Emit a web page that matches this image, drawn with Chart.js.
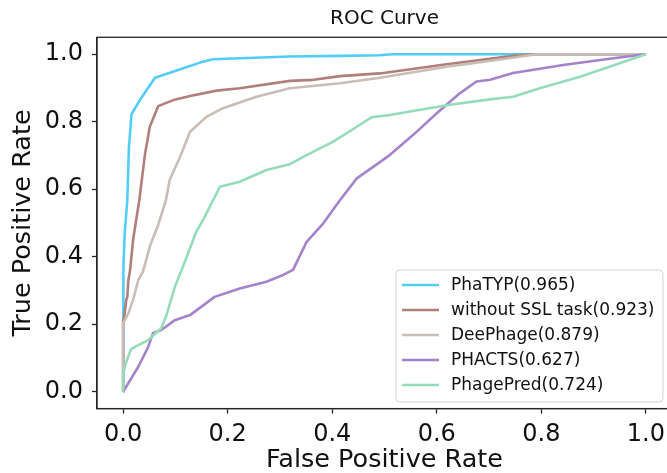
<!DOCTYPE html>
<html><head><meta charset="utf-8">
<script src="https://cdn.jsdelivr.net/npm/chart.js@4.4.1/dist/chart.umd.min.js"></script>
<style>
html,body{margin:0;padding:0;background:#fff;overflow:hidden;width:667px;height:473px}
#wrap{position:absolute;left:0;top:0;width:680px;height:473px}
canvas{display:block}
</style></head><body>
<div id="wrap"><canvas id="c" width="680" height="473" style="width:680px;height:473px"></canvas></div>
<script>
const chartTitle = 'ROC Curve';
const xAxisTitle = 'False Positive Rate';
const yAxisTitle = 'True Positive Rate';
const tickValues = [0, 0.2, 0.4, 0.6, 0.8, 1.0];
const seriesNames = ['PhaTYP(0.965)', 'without SSL task(0.923)', 'DeePhage(0.879)', 'PHACTS(0.627)', 'PhagePred(0.724)'];

const phatypFpr = [0, 0, 0.001, 0.003, 0.005, 0.008, 0.011, 0.016, 0.032, 0.061, 0.105, 0.147, 0.172, 0.223, 0.319, 0.415, 0.490, 0.515, 0.800, 1.0];
const phatypTpr = [0, 0.22, 0.37, 0.469, 0.508, 0.568, 0.721, 0.822, 0.864, 0.930, 0.953, 0.975, 0.985, 0.988, 0.993, 0.995, 0.997, 1.0, 1.0, 1.0];

const noSslFpr = [0, 0, 0.002, 0.006, 0.008, 0.010, 0.013, 0.019, 0.026, 0.031, 0.042, 0.051, 0.067, 0.096, 0.128, 0.179, 0.223, 0.319, 0.364, 0.415, 0.491, 0.619, 0.746, 0.791, 1.0];
const noSslTpr = [0, 0.21, 0.222, 0.272, 0.281, 0.331, 0.356, 0.449, 0.519, 0.568, 0.706, 0.785, 0.846, 0.864, 0.876, 0.892, 0.899, 0.921, 0.924, 0.935, 0.943, 0.970, 0.995, 1.0, 1.0];

const deephageFpr = [0, 0, 0.010, 0.019, 0.029, 0.038, 0.051, 0.067, 0.082, 0.089, 0.109, 0.128, 0.160, 0.191, 0.255, 0.319, 0.415, 0.491, 0.619, 0.715, 0.791, 1.0];
const deephageTpr = [0, 0.203, 0.232, 0.272, 0.331, 0.356, 0.430, 0.494, 0.568, 0.627, 0.696, 0.770, 0.815, 0.840, 0.874, 0.899, 0.914, 0.930, 0.963, 0.983, 1.0, 1.0];

const phactsFpr = [0, 0.029, 0.048, 0.057, 0.073, 0.099, 0.128, 0.175, 0.223, 0.274, 0.306, 0.325, 0.351, 0.383, 0.415, 0.447, 0.479, 0.510, 0.555, 0.600, 0.644, 0.676, 0.702, 0.746, 0.842, 0.938, 1.0];
const phactsTpr = [0, 0.074, 0.133, 0.173, 0.183, 0.212, 0.227, 0.281, 0.306, 0.326, 0.346, 0.361, 0.444, 0.499, 0.568, 0.632, 0.667, 0.701, 0.761, 0.825, 0.884, 0.919, 0.924, 0.944, 0.968, 0.988, 1.0];

const phagepredFpr = [0, 0, 0.004, 0.015, 0.029, 0.048, 0.073, 0.083, 0.099, 0.112, 0.140, 0.153, 0.185, 0.223, 0.274, 0.319, 0.351, 0.402, 0.447, 0.475, 0.510, 0.574, 0.625, 0.702, 0.746, 0.797, 0.874, 0.950, 1.0];
const phagepredTpr = [0, 0.05, 0.079, 0.126, 0.138, 0.153, 0.188, 0.227, 0.311, 0.361, 0.474, 0.509, 0.607, 0.622, 0.657, 0.674, 0.701, 0.741, 0.785, 0.813, 0.820, 0.837, 0.850, 0.866, 0.874, 0.899, 0.933, 0.973, 1.0];

const seriesFpr = [phatypFpr, noSslFpr, deephageFpr, phactsFpr, phagepredFpr];
const seriesTpr = [phatypTpr, noSslTpr, deephageTpr, phactsTpr, phagepredTpr];
const seriesColors = ['#52cdf7', '#b07f7c', '#c9bdb5', '#a583cc', '#95dcb8'];

const FONT = "'DejaVu Sans', sans-serif";

const datasets = seriesNames.map((name, i) => ({
  label: name,
  data: seriesFpr[i].map((x, j) => ({x: x, y: seriesTpr[i][j]})),
  borderColor: seriesColors[i],
  backgroundColor: seriesColors[i],
  borderWidth: 2.6,
  pointRadius: 0,
  pointHoverRadius: 0,
  tension: 0,
  fill: false,
  borderJoinStyle: 'round',
  order: seriesNames.length - i
}));

const framePlugin = {
  id: 'frameAndLegend',
  afterDatasetsDraw(chart) {
    const {ctx, chartArea: a} = chart;
    ctx.save();
    ctx.strokeStyle = '#262626';
    ctx.lineWidth = 1.3;
    ctx.strokeRect(a.left, a.top, a.right - a.left, a.bottom - a.top);
    ctx.restore();
  },
  afterDraw(chart) {
    const {ctx, chartArea: a} = chart;
    const ds = chart.data.datasets;
    const bw = 267, rowH = 25, bh = 132;
    const bx = a.right - 9 - bw;
    const by = a.bottom - 6.6 - bh;
    ctx.save();
    ctx.beginPath();
    const r = 4;
    ctx.moveTo(bx + r, by);
    ctx.lineTo(bx + bw - r, by);
    ctx.quadraticCurveTo(bx + bw, by, bx + bw, by + r);
    ctx.lineTo(bx + bw, by + bh - r);
    ctx.quadraticCurveTo(bx + bw, by + bh, bx + bw - r, by + bh);
    ctx.lineTo(bx + r, by + bh);
    ctx.quadraticCurveTo(bx, by + bh, bx, by + bh - r);
    ctx.lineTo(bx, by + r);
    ctx.quadraticCurveTo(bx, by, bx + r, by);
    ctx.closePath();
    ctx.fillStyle = 'rgba(255,255,255,0.85)';
    ctx.fill();
    ctx.strokeStyle = '#d2d2d2';
    ctx.lineWidth = 1;
    ctx.stroke();
    ctx.font = '17px ' + FONT;
    ctx.textBaseline = 'middle';
    ctx.textAlign = 'left';
    ds.forEach((d, i) => {
      const cy = by + 15 + i * rowH;
      ctx.beginPath();
      ctx.strokeStyle = d.borderColor;
      ctx.lineWidth = 2.6;
      ctx.moveTo(bx + 6, cy);
      ctx.lineTo(bx + 43, cy);
      ctx.stroke();
      ctx.fillStyle = '#111';
      ctx.fillText(d.label, bx + 55, cy + 1);
    });
    ctx.restore();
  }
};

new Chart(document.getElementById('c'), {
  type: 'line',
  data: { datasets: datasets },
  plugins: [framePlugin],
  options: {
    responsive: false,
    maintainAspectRatio: false,
    animation: false,
    devicePixelRatio: 1,
    layout: { padding: { left: 0, right: 8, top: 0, bottom: 0 } },
    plugins: {
      legend: { display: false },
      tooltip: { enabled: false },
      title: {
        display: true,
        text: chartTitle,
        fullSize: false,
        color: '#111',
        font: { family: FONT, size: 20, weight: 'normal', lineHeight: 1.2 },
        padding: { top: 7, bottom: 6.3 }
      }
    },
    scales: {
      x: {
        type: 'linear',
        min: -0.05,
        max: 1.05,
        afterFit: s => { s.height = 64.4; },
        afterBuildTicks: s => { s.ticks = tickValues.map(v => ({value: v})); },
        grid: { display: true, drawOnChartArea: false, drawTicks: true, tickLength: 5, color: '#262626', tickWidth: 1.3 },
        border: { display: true, color: '#262626', width: 1.3 },
        ticks: {
          color: '#111', padding: 7, maxRotation: 0, autoSkip: false,
          font: { family: FONT, size: 24 },
          callback: v => Number(v).toFixed(1)
        },
        title: {
          display: true, text: xAxisTitle, color: '#111',
          font: { family: FONT, size: 25.5, lineHeight: 1.0 },
          padding: { top: 0, bottom: 0 }
        }
      },
      y: {
        type: 'linear',
        min: -0.05,
        max: 1.05,
        afterFit: s => { s.width = 97; },
        afterBuildTicks: s => { s.ticks = tickValues.map(v => ({value: v})); },
        grid: { display: true, drawOnChartArea: false, drawTicks: true, tickLength: 5, color: '#262626', tickWidth: 1.3 },
        border: { display: true, color: '#262626', width: 1.3 },
        ticks: {
          color: '#111', padding: 9, autoSkip: false,
          font: { family: FONT, size: 24 },
          callback: v => Number(v).toFixed(1)
        },
        title: {
          display: true, text: yAxisTitle, color: '#111',
          font: { family: FONT, size: 25.5, lineHeight: 1.0 },
          padding: { top: 11, bottom: 0 }
        }
      }
    }
  }
});
</script>
</body></html>
